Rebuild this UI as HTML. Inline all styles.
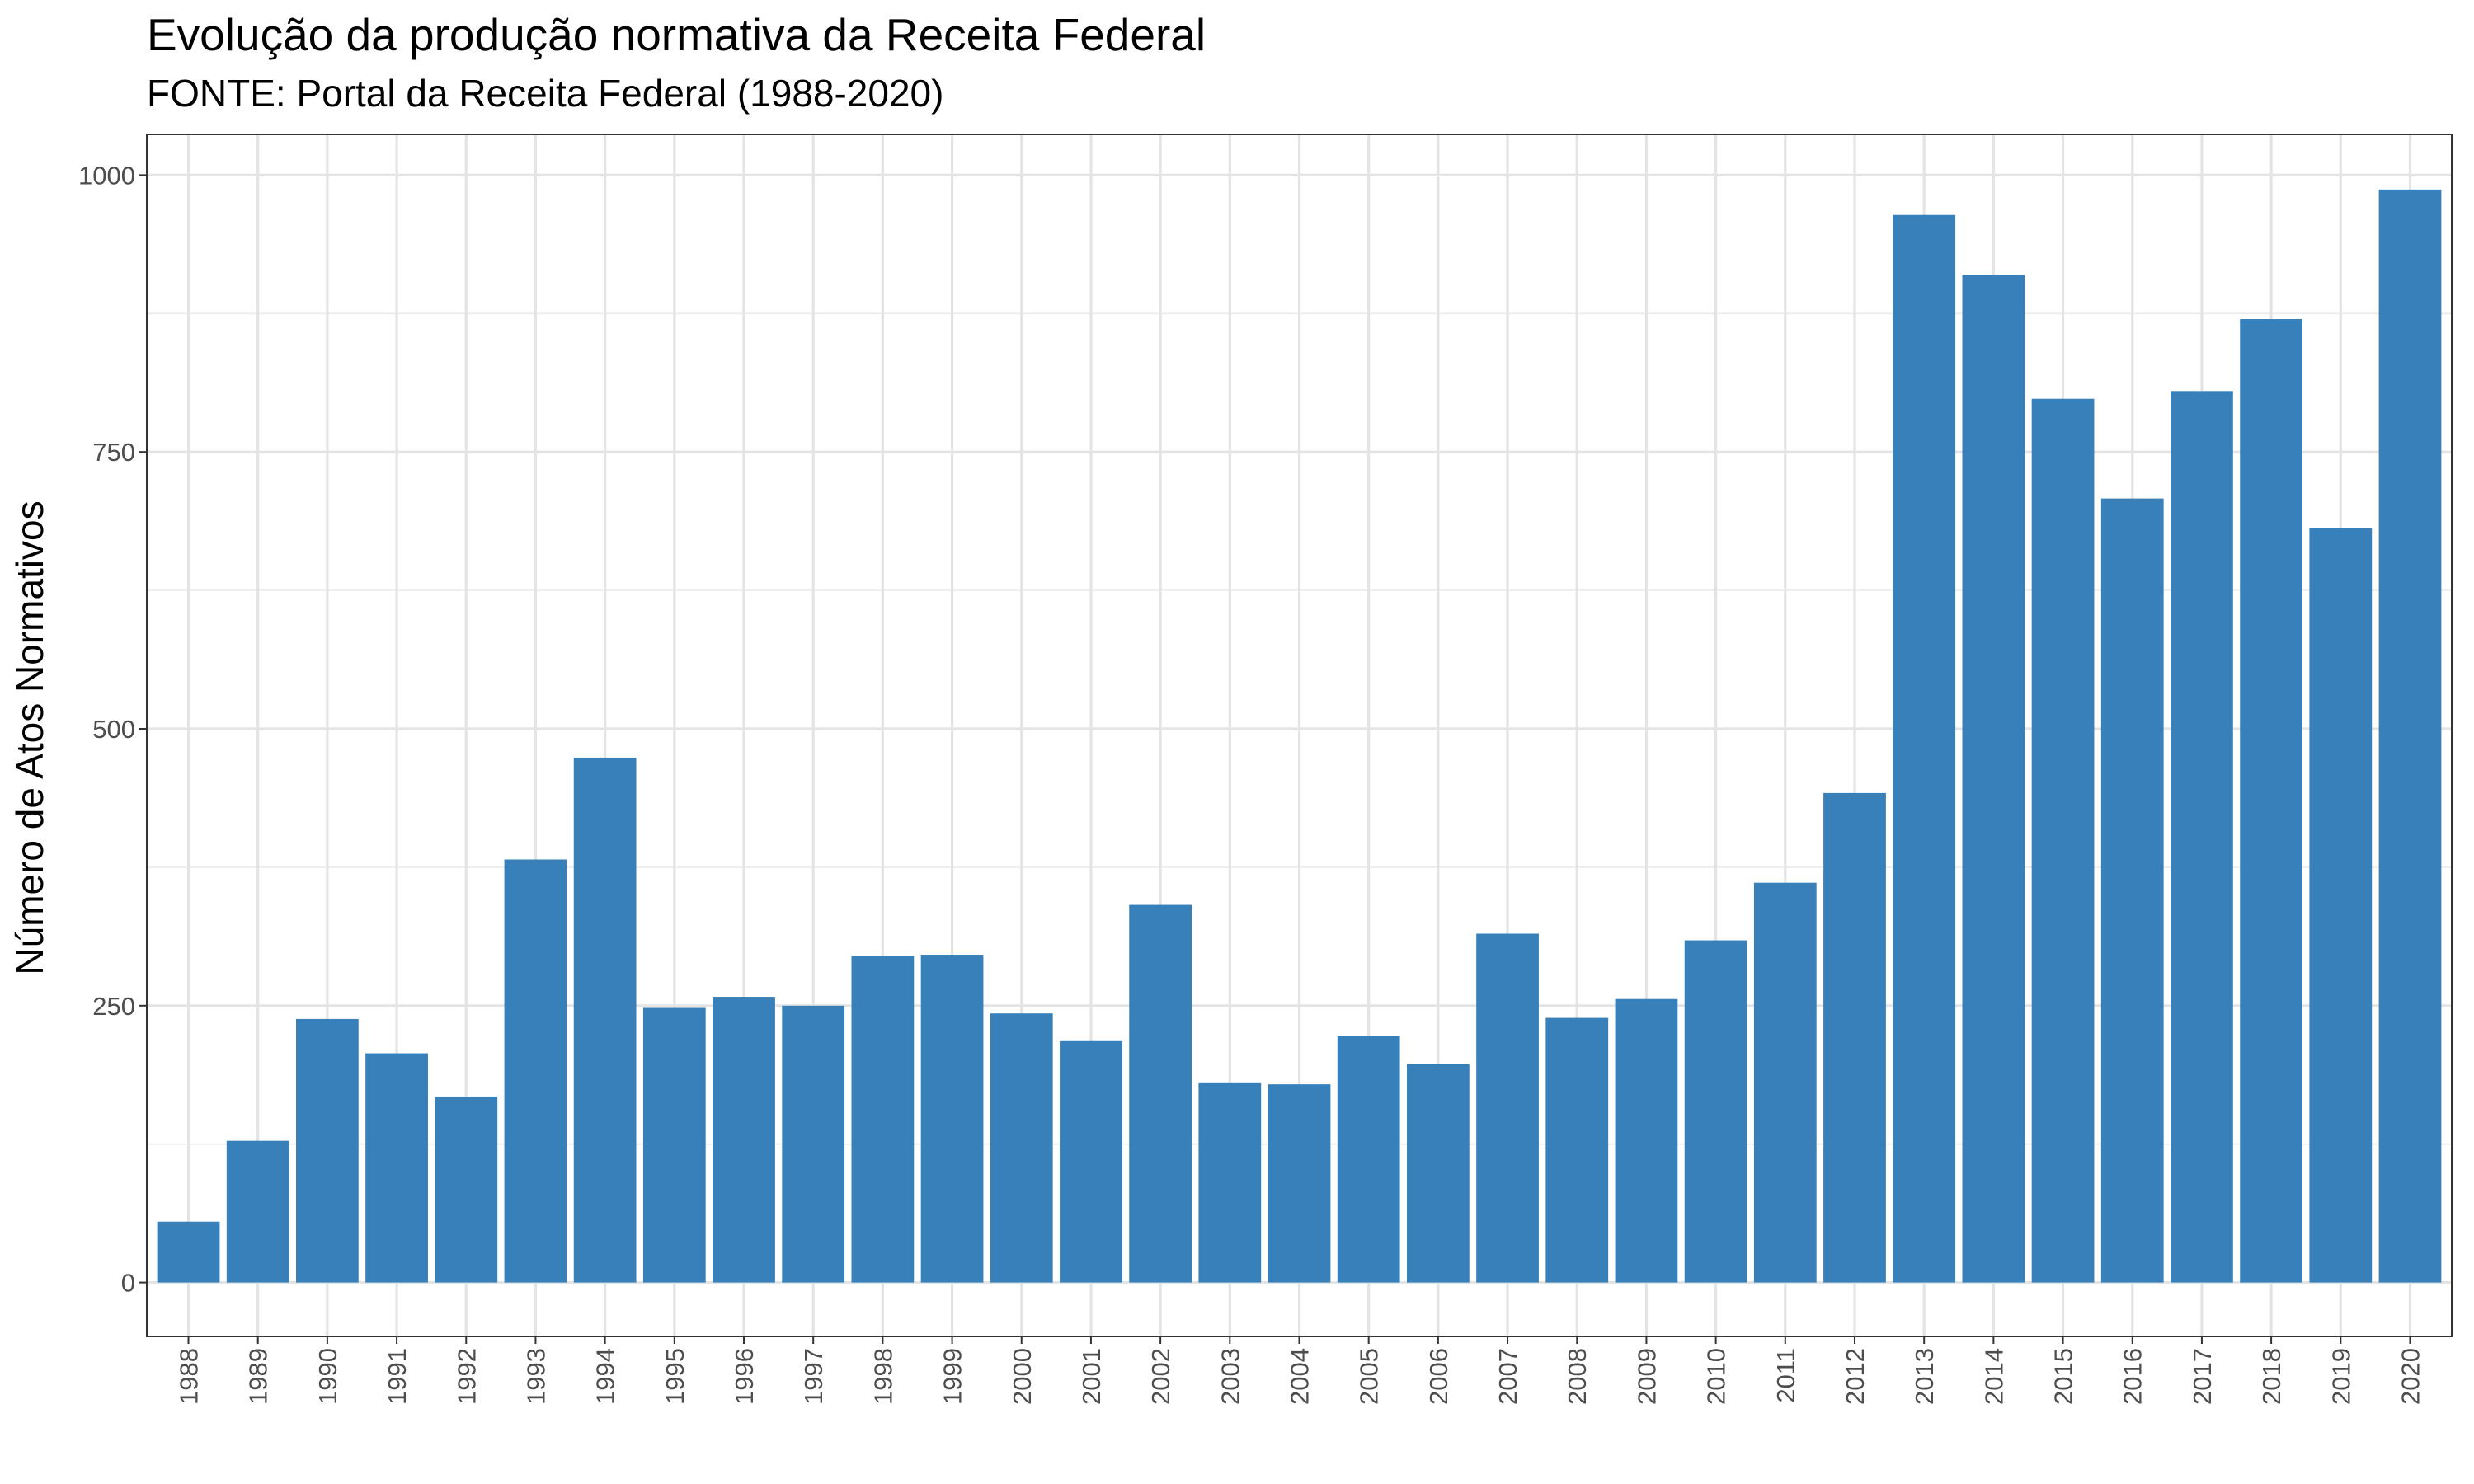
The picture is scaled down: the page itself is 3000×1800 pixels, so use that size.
<!DOCTYPE html>
<html><head><meta charset="utf-8"><style>
html,body{margin:0;padding:0;background:#fff;width:3000px;height:1800px;overflow:hidden}
svg text{font-family:"Liberation Sans",Arial,sans-serif}
</style></head><body>
<svg id="chart" width="3000" height="1800" viewBox="0 0 3000 1800" xmlns="http://www.w3.org/2000/svg">
<text x="178" y="61" font-size="55" fill="#000">Evolução da produção normativa da Receita Federal</text>
<text x="178" y="129" font-size="46" fill="#000">FONTE: Portal da Receita Federal (1988-2020)</text>
<text transform="translate(52,895) rotate(-90)" text-anchor="middle" font-size="46" fill="#000">Número de Atos Normativos</text>
<g id="grid"></g><g id="bars"></g><g id="axes"></g>
</svg>
<script>
const years = ["1988","1989","1990","1991","1992","1993","1994","1995","1996","1997","1998","1999","2000","2001","2002","2003","2004","2005","2006","2007","2008","2009","2010","2011","2012","2013","2014","2015","2016","2017","2018","2019","2020"];
const counts = [55,128,238,207,168,382,474,248,258,250,295,296,243,218,341,180,179,223,197,315,239,256,309,361,442,964,910,798,708,805,870,681,987];
const yTicks = [0,250,500,750,1000];
const yMinor = [125,375,625,875];

const NS="http://www.w3.org/2000/svg";
const L=178,R=2973,T=163,B=1621;
const y=v=>1555.6-v*(1555.6-212.4)/1000;
const step=(R-L)/(years.length+0.2);
const x=i=>L+step*0.6+i*step;
const bw=step*0.9;
function mk(tag,attrs,parent){const e=document.createElementNS(NS,tag);for(const k in attrs)e.setAttribute(k,attrs[k]);parent.appendChild(e);return e;}
const grid=document.getElementById('grid'),bars=document.getElementById('bars'),axes=document.getElementById('axes');
mk('rect',{x:L,y:T,width:R-L,height:B-T,fill:'#fff'},grid);
yMinor.forEach(v=>{const l=mk('line',{x1:L,x2:R,y1:y(v),y2:y(v),stroke:'#ebebeb','stroke-width':1.6},grid);

});
yTicks.forEach(v=>{const l=mk('line',{x1:L,x2:R,y1:y(v),y2:y(v),stroke:'#e4e4e4','stroke-width':3.2},grid);


mk('line',{x1:L-9,x2:L,y1:y(v),y2:y(v),stroke:'#333','stroke-width':2},axes);
const t=mk('text',{x:L-14,y:y(v)+11,'text-anchor':'end','font-size':31,fill:'#4d4d4d'},axes);t.textContent=v;

});
years.forEach((yr,i)=>{const l=mk('line',{x1:x(i),x2:x(i),y1:T,y2:B,stroke:'#e4e4e4','stroke-width':3.2},grid);


const r=mk('rect',{x:x(i)-bw/2,y:y(counts[i]),width:bw,height:y(0)-y(counts[i]),fill:'#3780ba'},bars);


mk('line',{x1:x(i),x2:x(i),y1:B,y2:B+9,stroke:'#333','stroke-width':2},axes);
const t=mk('text',{transform:`translate(${x(i)+11},${B+14}) rotate(-90)`,'text-anchor':'end','font-size':31,fill:'#4d4d4d'},axes);t.textContent=yr;

});
const border=mk('rect',{x:L,y:T,width:R-L,height:B-T,fill:'none',stroke:'#333','stroke-width':2},axes);


</script>
</body></html>
